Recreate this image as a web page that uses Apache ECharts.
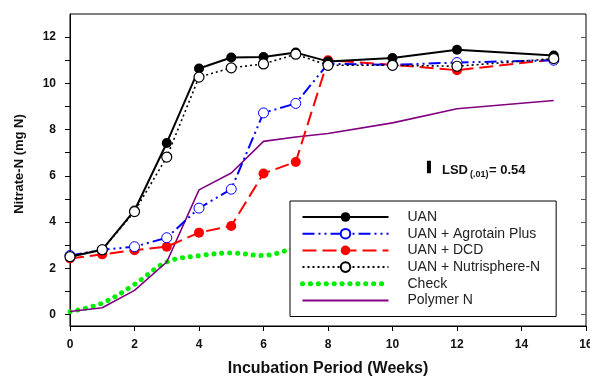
<!DOCTYPE html>
<html><head><meta charset="utf-8">
<script src="https://cdn.jsdelivr.net/npm/echarts@6/dist/echarts.min.js"></script>
<style>html,body{margin:0;padding:0;background:#fff}#c{width:590px;height:378px}</style>
</head><body><div id="c"></div>
<script>
const weeks = [0, 1, 2, 3, 4, 5, 6, 7, 8, 10, 12, 15];
const uan = [2.5, 2.8, 4.5, 7.42, 10.64, 11.12, 11.14, 11.33, 10.95, 11.1, 11.45, 11.2];
const agrotain = [2.55, 2.8, 2.93, 3.32, 4.6, 5.42, 8.72, 9.13, 10.85, 10.8, 10.9, 11.0];
const dcd = [2.42, 2.6, 2.78, 2.93, 3.54, 3.83, 6.1, 6.6, 11.0, 10.8, 10.57, 11.03];
const nutrisphere = [2.5, 2.8, 4.45, 6.81, 10.27, 10.67, 10.84, 11.26, 10.78, 10.78, 10.74, 11.07];
const check = [0.12, 0.49, 1.3, 2.27, 2.54, 2.66, 2.55, 2.85, 2.9, 3.0, 3.1, 3.2];
const polymer = [0.13, 0.29, 1.04, 2.27, 5.39, 6.12, 7.49, 7.68, 7.83, 8.29, 8.9, 9.26];
const seriesNames = ['UAN', 'UAN + Agrotain Plus', 'UAN + DCD', 'UAN + Nutrisphere-N', 'Check', 'Polymer N'];
const lsdWeek = 11.13;
const lsdCenter = 6.38;
const lsdValue = 0.54;
const yTickValues = [0,1,2,3,4,5,6,7,8,9,10,11,12];
const yLabelValues = [0,2,4,6,8,10,12];

function pts(arr){ return weeks.map((w,i)=>[w, arr[i]]); }
const font = '"Liberation Sans", Arial, sans-serif';
const noSymbol = {color: 'rgba(0,0,0,0)', borderColor: 'rgba(0,0,0,0)', borderWidth: 0, opacity: 0};
const chart = echarts.init(document.getElementById('c'), null, {renderer:'canvas'});
chart.setOption({
  animation: false,
  backgroundColor: '#fff',
  grid: {left: 70, right: 4, top: 14, bottom: 52, outerBoundsMode: 'none', containLabel: false,
         show: true, borderColor: '#000', borderWidth: 1, backgroundColor: 'transparent'},
  xAxis: {
    type: 'value', min: 0, max: 16, interval: 2,
    name: 'Incubation Period (Weeks)', nameLocation: 'middle', nameGap: 35,
    nameTextStyle: {fontFamily: font, fontWeight: 'bold', fontSize: 16, color: '#111'},
    axisLine: {show: true, onZero: false, lineStyle: {color: '#000', width: 1}},
    axisTick: {show: true, inside: false, length: 5, lineStyle: {color: '#000'}},
    axisLabel: {fontFamily: font, fontWeight: 'bold', fontSize: 12, color: '#111', margin: 13},
    splitLine: {show: false}
  },
  yAxis: [{
    type: 'value', min: -0.5, max: 13,
    name: 'Nitrate-N (mg N)', nameLocation: 'middle', nameGap: 44,
    nameTextStyle: {fontFamily: font, fontWeight: 'bold', fontSize: 13, color: '#111', padding: [0, 0, 0, 12]},
    axisLine: {show: true, lineStyle: {color: '#000', width: 1}},
    axisTick: {show: true, inside: false, length: 5, customValues: yTickValues, lineStyle: {color: '#000'}},
    axisLabel: {fontFamily: font, fontWeight: 'bold', fontSize: 12, color: '#111', margin: 14, customValues: yLabelValues},
    splitLine: {show: false}
  }, {
    type: 'value', min: -0.5, max: 13, position: 'right',
    axisLine: {show: false},
    axisTick: {show: true, inside: true, length: 5, customValues: yTickValues, lineStyle: {color: '#555'}},
    axisLabel: {show: false},
    splitLine: {show: false}
  }],
  legend: {
    orient: 'vertical', left: 290, top: 201,
    data: [
      {name: seriesNames[0]}, {name: seriesNames[1]}, {name: seriesNames[2]}, {name: seriesNames[3]},
      {name: seriesNames[4], itemStyle: noSymbol, lineStyle: {width: 5, type: [0.1, 7.8], cap: 'round', color: '#00ee00'}},
      {name: seriesNames[5], itemStyle: noSymbol}
    ],
    itemWidth: 86, itemHeight: 12, itemGap: 2.7,
    padding: [9, 16, 9, 10],
    backgroundColor: '#fff', borderColor: '#000', borderWidth: 1,
    textStyle: {fontFamily: font, fontSize: 14, lineHeight: 14, color: '#222', padding: [0, 0, 0, 14]},
    selectedMode: false
  },
  graphic: [
    {type: 'text', left: 442, top: 164, style: {text: 'LSD', font: 'bold 13px ' + font, fill: '#111'}, z: 10},
    {type: 'text', left: 470, top: 170, style: {text: '(.01)', font: 'bold 9px ' + font, fill: '#111'}, z: 10},
    {type: 'text', left: 489, top: 164, style: {text: '= 0.54', font: 'bold 13px ' + font, fill: '#111'}, z: 10}
  ],
  series: [
    {name: 'Check', type: 'line', data: pts(check), smooth: 0.35, showSymbol: false, symbol: 'none', z: 2,
     lineStyle: {color: '#00ee00', width: 5, type: [0.1, 7.8], cap: 'round'}, itemStyle: {color: '#00ee00'}},
    {name: 'Polymer N', type: 'line', data: pts(polymer), symbol: 'none', z: 2,
     lineStyle: {color: '#800080', width: 1.6}, itemStyle: {color: '#800080'}},
    {name: 'UAN + DCD', type: 'line', data: pts(dcd), symbol: 'circle', symbolSize: 10, z: 3,
     lineStyle: {color: '#ff0000', width: 2, type: [14, 6]}, itemStyle: {color: '#ff0000', borderColor: '#ff0000', borderWidth: 0}},
    {name: 'UAN + Agrotain Plus', type: 'line', data: pts(agrotain), symbol: 'circle', symbolSize: 10, z: 3,
     lineStyle: {color: '#0000ff', width: 2, type: [12, 4, 2, 4, 2, 4]}, itemStyle: {color: '#ffffff', borderColor: '#0000ff', borderWidth: 1}},
    {name: 'UAN', type: 'line', data: pts(uan), symbol: 'circle', symbolSize: 10, z: 4,
     lineStyle: {color: '#000', width: 2}, itemStyle: {color: '#000', borderColor: '#000', borderWidth: 0}},
    {name: 'UAN + Nutrisphere-N', type: 'line', data: pts(nutrisphere), symbol: 'circle', symbolSize: 10, z: 5,
     lineStyle: {color: '#000', width: 1.6, type: [2, 3]}, itemStyle: {color: '#ffffff', borderColor: '#000', borderWidth: 1.2}},
    {name: 'LSD', type: 'line', data: [[lsdWeek, lsdCenter - lsdValue/2], [lsdWeek, lsdCenter + lsdValue/2]], symbol: 'none', silent: true, z: 6,
     lineStyle: {color: '#000', width: 4}}
  ]
});
</script></body></html>
